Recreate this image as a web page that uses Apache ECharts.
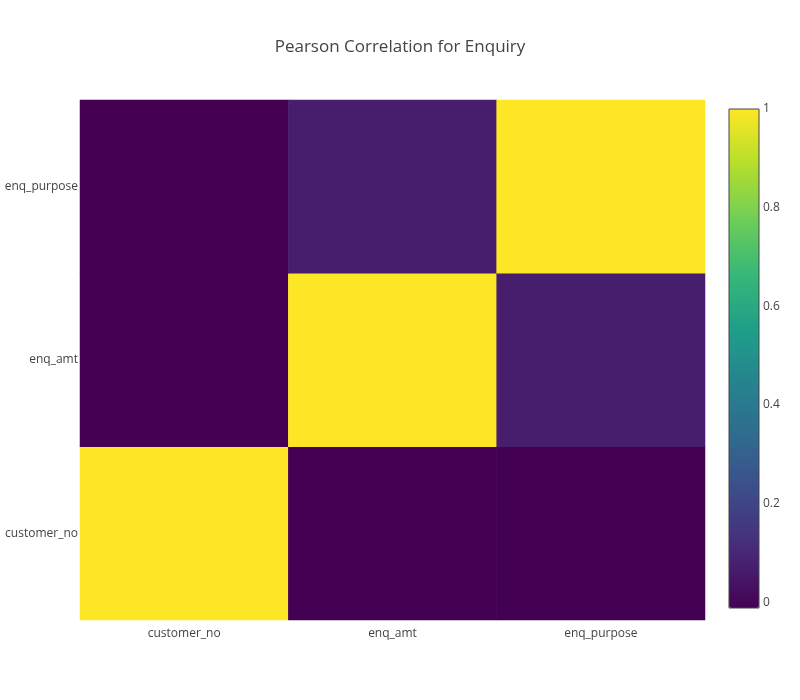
<!DOCTYPE html>
<html>
<head>
<meta charset="utf-8">
<script src="https://cdn.jsdelivr.net/npm/echarts@6/dist/echarts.min.js"></script>
<style>html,body{margin:0;padding:0;background:#fff}#c{width:800px;height:700px}</style>
</head>
<body>
<div id="c"></div>
<script>
var cols = ['customer_no', 'enq_amt', 'enq_purpose'];
var rows = ['customer_no', 'enq_amt', 'enq_purpose'];
// corr[row][col]
var corr = [
    [1, -0.012, -0.012],
    [-0.012, 1, 0.07],
    [-0.012, 0.07, 1]
];
var barTicks = [0, 0.2, 0.4, 0.6, 0.8, 1];
var viridis = ['#440154','#482878','#3e4989','#31688e','#26828e','#1f9e89','#35b779','#6ece58','#b5de2b','#fde725'];

var data = [];
for (var r = 0; r < rows.length; r++) {
    for (var c = 0; c < cols.length; c++) {
        data.push([c, r, corr[r][c]]);
    }
}
var font = '"Open Sans", sans-serif';
var chart = echarts.init(document.getElementById('c'));
chart.setOption({
    title: {text: 'Pearson Correlation for Enquiry', left: 'center', top: 34,
        textStyle: {fontFamily: font, fontSize: 17, fontWeight: 'normal', color: '#444'}},
    grid: [
        {left: 80, top: 100, width: 625, height: 520},
        {left: 729, top: 109, width: 30, height: 499, show: true, z: 10,
            borderColor: '#444', borderWidth: 1, backgroundColor: 'transparent'}
    ],
    xAxis: [
        {type: 'category', data: cols, gridIndex: 0, axisLine: {show: false}, axisTick: {show: false},
            axisLabel: {fontFamily: font, fontSize: 12, color: '#444'}},
        {type: 'value', gridIndex: 1, show: false}
    ],
    yAxis: [
        {type: 'category', data: rows, gridIndex: 0, axisLine: {show: false}, axisTick: {show: false},
            axisLabel: {fontFamily: font, fontSize: 12, color: '#444', margin: 2}},
        {type: 'value', gridIndex: 1, position: 'right', min: -0.012, max: 1,
            splitLine: {show: false}, axisLine: {show: false}, axisTick: {show: false},
            axisLabel: {customValues: barTicks, fontFamily: font, fontSize: 12, color: '#444', margin: 4}}
    ],
    visualMap: {
        type: 'continuous', min: -0.012, max: 1, calculable: false, show: true,
        left: 729, top: 109, itemWidth: 30, itemHeight: 499, padding: 0, text: ['', ''],
        showLabel: false, inRange: {color: viridis}, seriesIndex: 0
    },
    series: [{
        type: 'heatmap', xAxisIndex: 0, yAxisIndex: 0, data: data, itemStyle: {borderWidth: 0}
    }]
});
</script>
</body>
</html>
